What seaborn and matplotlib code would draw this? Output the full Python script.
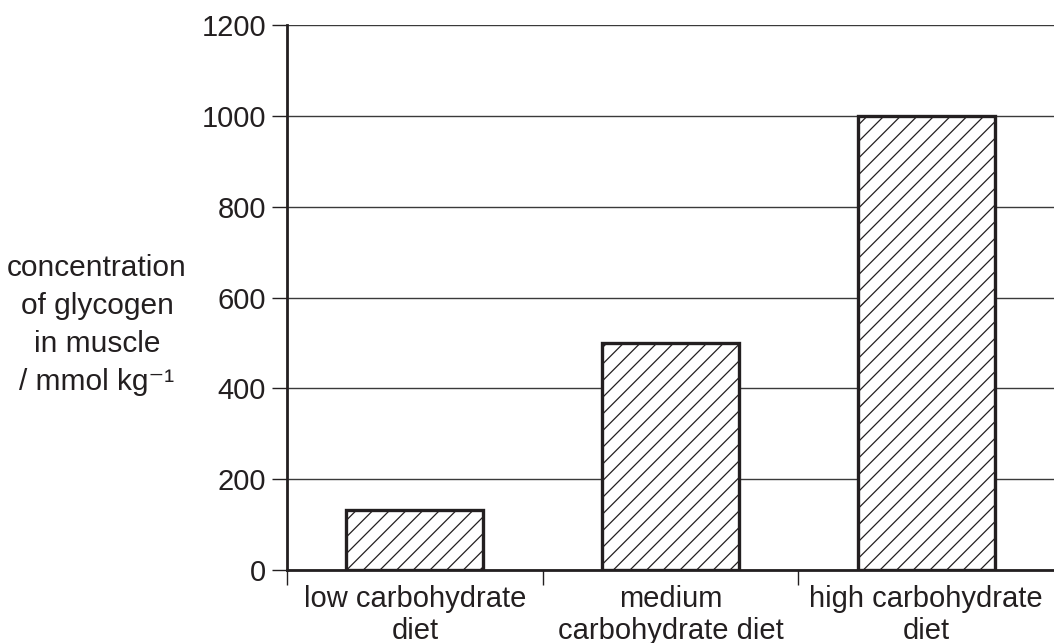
import matplotlib
matplotlib.use("Agg")
import matplotlib.pyplot as plt
import seaborn as sns

# Data
diets = ["low carbohydrate\ndiet", "medium\ncarbohydrate diet", "high carbohydrate\ndiet"]
glycogen = [133, 500, 1000]
y_ticks = [0, 200, 400, 600, 800, 1000, 1200]

INK = "#231f20"

sns.set_theme(style="white")
plt.rcParams["font.family"] = ["Liberation Sans", "DejaVu Sans"]
plt.rcParams["hatch.linewidth"] = 0.9

fig = plt.figure(figsize=(10.54, 6.43), dpi=100)
ax = fig.add_axes([0.2723, 0.1135, 0.7277, 0.8476])

sns.barplot(x=diets, y=glycogen, color="white", edgecolor=INK, linewidth=2.4,
            width=0.535, hatch="//", ax=ax, zorder=3)

ax.set_xlim(-0.5, 2.5)
ax.set_ylim(0, 1200)
ax.set_yticks(y_ticks)
ax.grid(axis="y", color="#3a3a3a", linewidth=1.0)
ax.set_axisbelow(True)

for side in ["top", "right"]:
    ax.spines[side].set_visible(False)
for side in ["left", "bottom"]:
    ax.spines[side].set_color(INK)
    ax.spines[side].set_linewidth(2.0)

# category labels centred, tick marks on the boundaries
ax.set_xticks(range(len(diets)))
ax.set_xticklabels(diets, linespacing=1.16)
ax.set_xticks([-0.5, 0.5, 1.5], minor=True)
ax.tick_params(axis="x", which="major", length=0, pad=11, labelsize=21, labelcolor=INK)
ax.tick_params(axis="x", which="minor", length=11, width=1.0, color=INK, direction="out")
ax.tick_params(axis="y", length=11, width=1.0, color=INK, direction="out",
               pad=4, labelsize=21, labelcolor=INK)
ax.xaxis.set_ticks_position("bottom")
ax.yaxis.set_ticks_position("left")

ax.set_ylabel("concentration\nof glycogen\nin muscle\n/ mmol kg⁻¹", rotation=0,
              fontsize=21.5, color=INK, ha="center", va="center",
              multialignment="center", linespacing=1.45)
ax.yaxis.set_label_coords(-0.2477, 0.449)
ax.set_xlabel("")

fig.savefig("out.png", dpi=100)
